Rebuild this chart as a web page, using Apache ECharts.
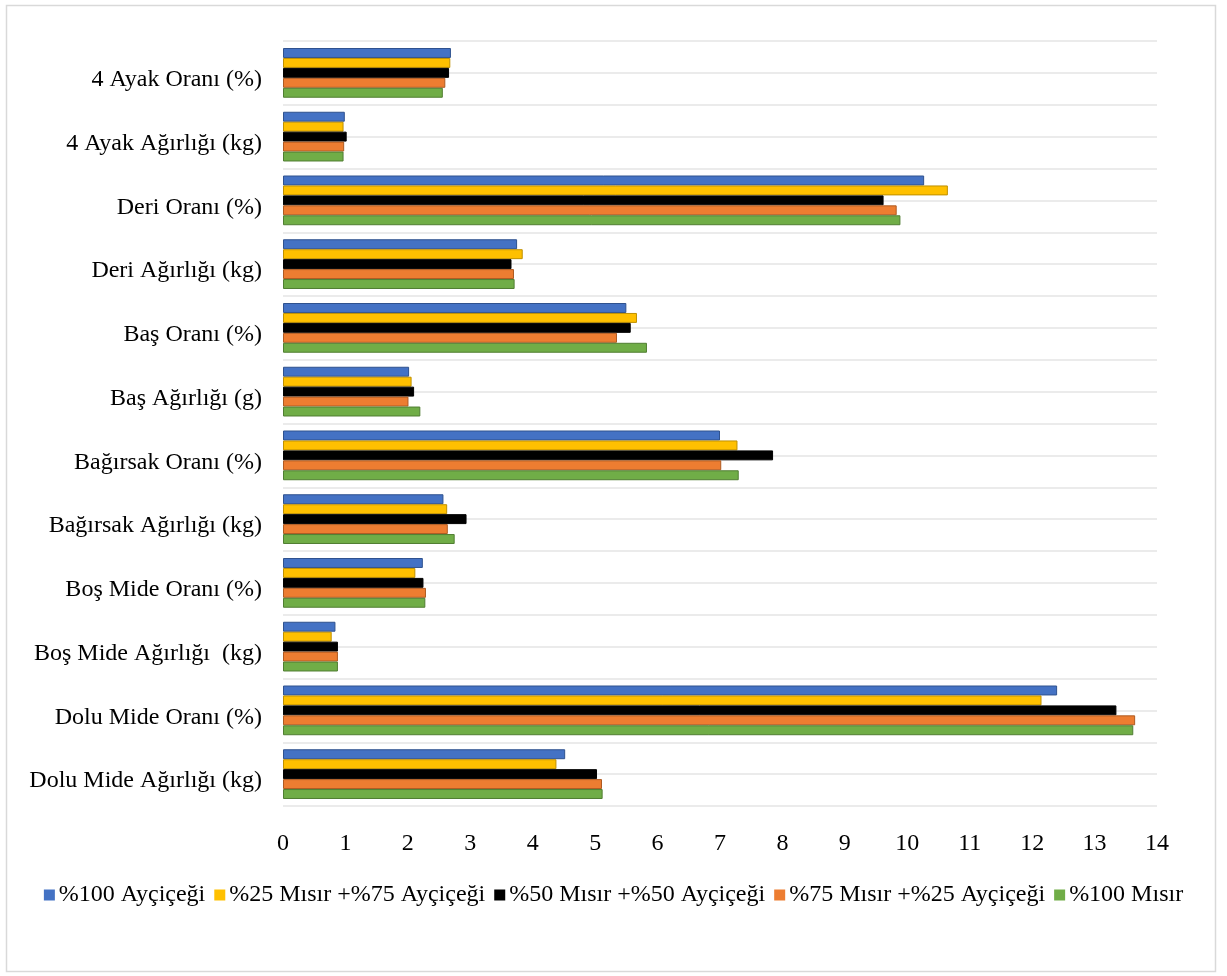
<!DOCTYPE html>
<html>
<head>
<meta charset="utf-8">
<script src="https://cdn.jsdelivr.net/npm/echarts@6/dist/echarts.min.js"></script>
<style>
html,body{margin:0;padding:0;background:#fff;}
#chart{width:1227px;height:976px;}
</style>
</head>
<body>
<div id="chart"></div>
<script>
const categories = [
  '4 Ayak Oranı (%)',
  '4 Ayak Ağırlığı (kg)',
  'Deri Oranı (%)',
  'Deri Ağırlığı (kg)',
  'Baş Oranı (%)',
  'Baş Ağırlığı (g)',
  'Bağırsak Oranı (%)',
  'Bağırsak Ağırlığı (kg)',
  'Boş Mide Oranı (%)',
  'Boş Mide Ağırlığı  (kg)',
  'Dolu Mide Oranı (%)',
  'Dolu Mide Ağırlığı (kg)'
];
const seriesNames = [
  '%100 Ayçiçeği',
  '%25 Mısır +%75 Ayçiçeği',
  '%50 Mısır +%50 Ayçiçeği',
  '%75 Mısır +%25 Ayçiçeği',
  '%100 Mısır'
];
const ayc100   = [2.69, 0.99, 10.27, 3.75, 5.50, 2.02, 7.00, 2.57, 2.24, 0.84, 12.40, 4.52];
const m25a75   = [2.68, 0.97, 10.65, 3.84, 5.67, 2.06, 7.28, 2.63, 2.12, 0.78, 12.15, 4.38];
const m50a50   = [2.66, 1.02, 9.62, 3.66, 5.57, 2.10, 7.85, 2.94, 2.25, 0.88, 13.35, 5.03];
const m75a25   = [2.60, 0.98, 9.83, 3.70, 5.35, 2.01, 7.02, 2.64, 2.29, 0.88, 13.65, 5.11];
const misir100 = [2.56, 0.97, 9.89, 3.71, 5.83, 2.20, 7.30, 2.75, 2.28, 0.88, 13.62, 5.12];
const xTicks = [0,1,2,3,4,5,6,7,8,9,10,11,12,13,14];

const values = [ayc100, m25a75, m50a50, m75a25, misir100];
const colors = ['#4472C4', '#FFC000', '#000000', '#ED7D31', '#70AD47'];
const edges  = ['#2F528F', '#BF9000', '#000000', '#AE5A21', '#507E32'];
const font = '"Liberation Serif", "Times New Roman", serif';

const chart = echarts.init(document.getElementById('chart'), null, {renderer: 'canvas'});
chart.setOption({
  animation: false,
  backgroundColor: '#fff',
  graphic: [{
    type: 'rect',
    shape: {x: 6.5, y: 5.5, width: 1209, height: 966},
    style: {fill: 'none', stroke: '#d9d9d9', lineWidth: 1.5},
    silent: true
  }],
  grid: {left: 283, right: 70, top: 41, height: 765, containLabel: false},
  legend: {
    bottom: 64,
    left: 'center',
    itemWidth: 11,
    itemHeight: 11,
    itemGap: 9,
    icon: 'rect',
    itemStyle: {borderWidth: 0},
    textStyle: {fontFamily: font, fontSize: 24, color: '#000', padding: [0, 0, 0, -1]},
    data: seriesNames
  },
  xAxis: {
    type: 'value',
    min: xTicks[0],
    max: xTicks[xTicks.length - 1],
    interval: 1,
    axisLine: {show: false},
    axisTick: {show: false},
    splitLine: {show: false},
    axisLabel: {fontFamily: font, fontSize: 24, color: '#000', margin: 26}
  },
  yAxis: [{
    type: 'category',
    inverse: true,
    data: categories,
    axisLine: {show: false},
    axisTick: {show: false},
    splitLine: {show: false},
    axisLabel: {
      margin: 21,
      formatter: v => '{a|' + v + '}',
      rich: {a: {fontFamily: font, fontSize: 24, color: '#000', padding: [14, 0, 0, 0]}}
    }
  }, {
    type: 'value',
    min: 0, max: 24, interval: 1,
    position: 'left',
    axisLine: {show: false},
    axisTick: {show: false},
    axisLabel: {show: false},
    splitLine: {show: true, lineStyle: {color: '#ebebeb', width: 2}}
  }],
  series: seriesNames.map((name, i) => ({
    name: name,
    type: 'bar',
    yAxisIndex: 0,
    data: values[i],
    barGap: '0%',
    barCategoryGap: '22%',
    itemStyle: {color: colors[i], borderColor: edges[i], borderWidth: 1}
  }))
});
</script>
</body>
</html>
